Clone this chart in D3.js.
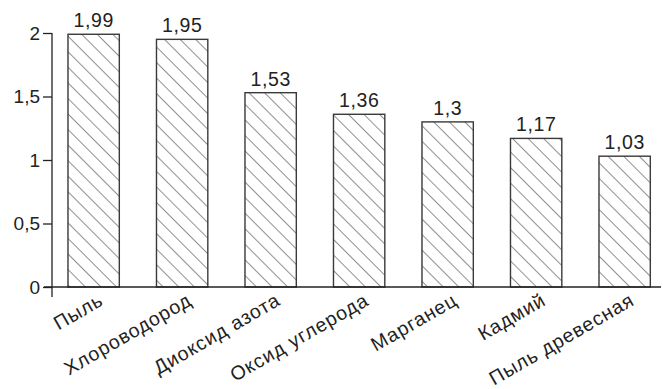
<!DOCTYPE html>
<html>
<head>
<meta charset="utf-8">
<script src="https://cdn.jsdelivr.net/npm/d3@7"></script>
<style>
  body { margin: 0; background: #fff; }
  svg { display: block; font-family: "Liberation Sans", Arial, sans-serif; }
</style>
</head>
<body>
<svg id="chart" width="663" height="389"></svg>
<script>
const categories = ["Пыль", "Хлороводород", "Диоксид азота", "Оксид углерода", "Марганец", "Кадмий", "Пыль древесная"];
const values = [1.99, 1.95, 1.53, 1.36, 1.3, 1.17, 1.03];
const yTicks = [0, 0.5, 1, 1.5, 2];

const svg = d3.select("#chart");
const ink = "#222";
const fmt = (d) => String(d).replace(".", ",");

const y = d3.scaleLinear().domain([0, 2]).range([287, 33]);
const x = d3.scaleBand()
  .domain(categories)
  .range([49.4, 668.9])
  .paddingInner(0.42)
  .paddingOuter(0.21);

// hatch pattern, lines running top-left to bottom-right
const pattern = svg.append("defs")
  .append("pattern")
  .attr("id", "hatch")
  .attr("patternUnits", "userSpaceOnUse")
  .attr("width", 11)
  .attr("height", 11)
  .attr("patternTransform", "rotate(-45)");
pattern.append("rect").attr("width", 11).attr("height", 11).attr("fill", "#fff");
pattern.append("line")
  .attr("x1", 0).attr("y1", 0).attr("x2", 0).attr("y2", 11)
  .attr("stroke", "#222").attr("stroke-width", 1);

// bars
svg.append("g")
  .selectAll("rect")
  .data(values)
  .join("rect")
  .attr("x", (d, i) => x(categories[i]))
  .attr("y", (d) => y(d))
  .attr("width", x.bandwidth())
  .attr("height", (d) => y(0) - y(d))
  .attr("fill", "url(#hatch)")
  .attr("stroke", "#3a3a3a")
  .attr("stroke-width", 1.4);

// value labels
svg.append("g")
  .selectAll("text")
  .data(values)
  .join("text")
  .attr("x", (d, i) => x(categories[i]) + x.bandwidth() / 2)
  .attr("y", (d) => y(d) - 7)
  .attr("text-anchor", "middle")
  .attr("font-size", 19.5)
  .attr("letter-spacing", 0.6)
  .attr("fill", ink)
  .text(fmt);

// y axis
const yAxis = svg.append("g")
  .attr("transform", "translate(52,0)")
  .call(d3.axisLeft(y).tickValues(yTicks).tickSize(9).tickPadding(3).tickFormat(fmt));
yAxis.select(".domain").remove();
yAxis.selectAll(".tick line").attr("stroke", ink).attr("stroke-width", 1.3);
yAxis.selectAll(".tick text")
  .attr("font-size", 19)
  .attr("font-family", "Liberation Sans, Arial, sans-serif")
  .attr("fill", ink);

svg.append("line")
  .attr("x1", 52).attr("x2", 52)
  .attr("y1", y(2)).attr("y2", 297)
  .attr("stroke", ink).attr("stroke-width", 1.3);

// x axis line
svg.append("line")
  .attr("x1", 44).attr("x2", 661)
  .attr("y1", y(0)).attr("y2", y(0))
  .attr("stroke", ink).attr("stroke-width", 1.3);

// category labels
svg.append("g")
  .selectAll("text")
  .data(categories)
  .join("text")
  .attr("transform", (d) => `translate(${x(d) + x.bandwidth() / 2 + 11},304) rotate(-30)`)
  .attr("text-anchor", "end")
  .attr("font-size", 19.5)
  .attr("letter-spacing", 0.9)
  .attr("fill", ink)
  .text((d) => d);
</script>
</body>
</html>
